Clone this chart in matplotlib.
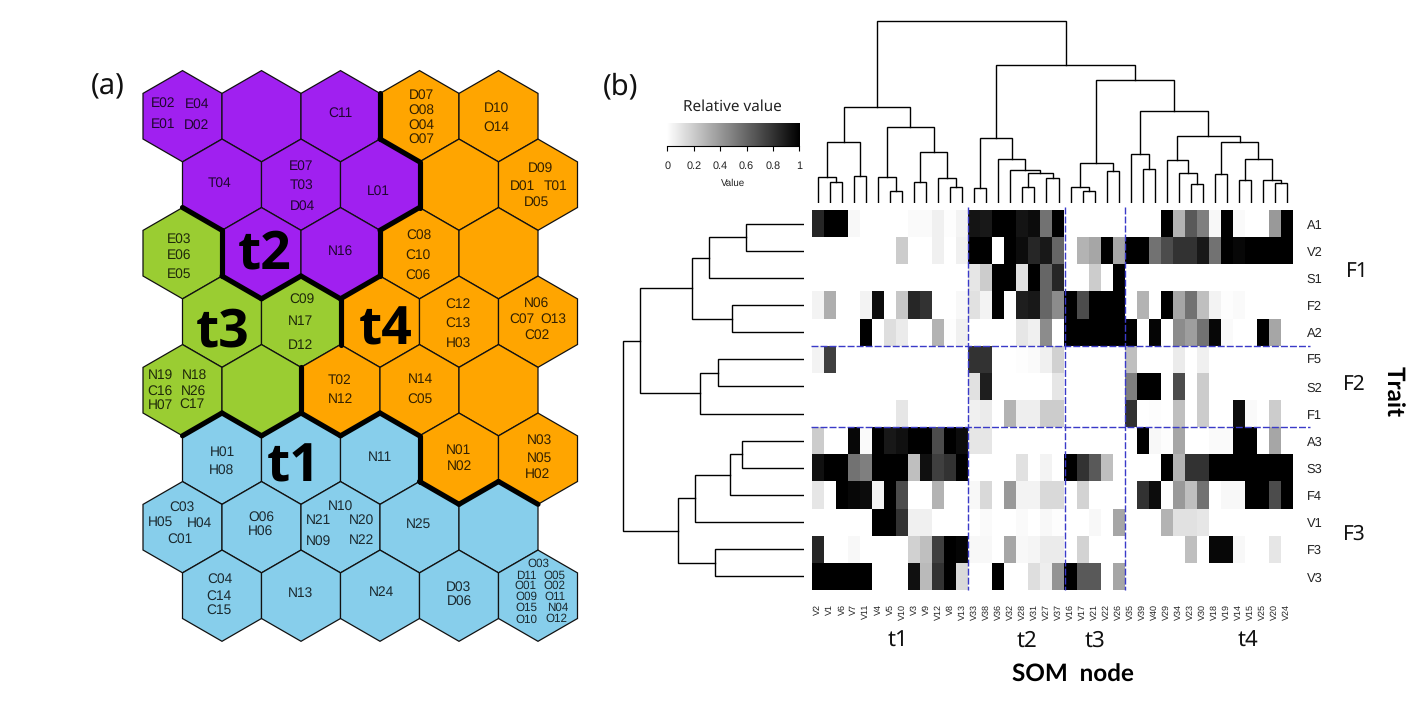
# SOM hexagon map (a) and clustered heatmap of trait vs SOM node (b)

import numpy as np
import matplotlib
matplotlib.use('Agg')
import matplotlib.pyplot as plt
from matplotlib.patches import Polygon

W, H = 1419, 702

plt.rcParams['font.family'] = ['Liberation Sans', 'DejaVu Sans']
plt.rcParams['text.hinting'] = 'none'

# ---- data ----
som_clusters = ['PPPOO', 'PPPOO', 'GPPOO', 'GGOOO', 'GGOOO', 'BBBOO', 'BBBBB', 'BBBBB']

trait_names = ['A1', 'V2', 'S1', 'F2', 'A2', 'F5', 'S2', 'F1', 'A3', 'S3', 'F4', 'V1', 'F3', 'V3']
node_names = ['V2', 'V1', 'V6', 'V7', 'V11', 'V4', 'V5', 'V10', 'V3', 'V9', 'V12', 'V8', 'V13', 'V33',
              'V38', 'V36', 'V32', 'V28', 'V31', 'V27', 'V37', 'V16', 'V17', 'V21', 'V22', 'V26', 'V35',
              'V39', 'V40', 'V29', 'V34', 'V23', 'V30', 'V18', 'V19', 'V14', 'V15', 'V25', 'V20', 'V24']

a1 = [.85, 1, 1, .03, 0, 0, 0, 0, .02, .02, .06, .01, .05, .92, .9, 1, 1, .92, .95, .55,
      1, 0, 0, 0, 0, 0, 0, 0, 0, 1, .3, .65, .5, .03, 1, .02, 0, 0, .4, 1]
v2 = [0, 0, 0, 0, 0, 0, 0, .2, 0, 0, .06, 0, .06, 1, 1, 0, 1, .95, .85, .9,
      .6, 0, .3, .35, 1, .35, 1, 1, .55, .7, .8, .8, .9, .55, 1, .97, 1, 1, 1, 1]
s1 = [0, 0, 0, 0, 0, 0, 0, 0, 0, 0, 0, 0, 0, .1, .2, 1, 1, .12, 1, .6,
      .85, 0, 0, .2, 0, 1, 0, 0, 0, 0, 0, 0, 0, 0, 0, 0, 0, 0, 0, 0]
f2 = [.05, .32, 0, 0, .05, .95, 0, .22, .85, .8, 0, 0, .03, .12, .05, 1, 0, .88, .9, .6,
      .45, 1, .7, 1, 1, 1, 0, .3, 0, 1, .35, .55, .25, .05, .01, .02, 0, 0, 0, 0]
a2 = [0, 0, 0, 0, 1, 0, .13, .08, 0, 0, .3, .01, .06, 0, 0, 0, 0, .1, .06, .45,
      0, 1, 1, 1, 1, 1, 1, 0, .98, 0, .45, .38, .55, .97, .02, 0, 0, 1, .35, 0]
f5 = [.05, .75, 0, 0, 0, 0, 0, 0, 0, 0, 0, 0, 0, .8, .8, 0, 0, .01, .02, .06,
      .18, 0, 0, 0, 0, 0, .25, 0, 0, 0, .08, 0, .06, 0, 0, 0, 0, 0, 0, 0]
s2 = [0, 0, 0, 0, 0, 0, 0, 0, 0, 0, 0, 0, 0, .12, .88, 0, 0, 0, 0, 0,
      .1, 0, 0, 0, 0, 0, .5, 1, 1, 0, .7, 0, .2, 0, 0, 0, 0, 0, 0, 0]
f1 = [0, 0, 0, 0, 0, 0, 0, .1, 0, 0, 0, 0, 0, .06, .08, 0, .3, .07, .07, .2,
      .2, 0, 0, 0, 0, 0, .8, 0, .01, 0, .25, 0, .2, 0, 0, .95, .02, 0, .2, 0]
a3 = [.2, 0, 0, .97, .02, 1, .9, .93, 1, 1, .7, 1, .95, .1, .1, 0, 0, 0, 0, 0,
      0, 0, 0, 0, 0, 0, 0, 1, .03, .01, .35, 0, 0, .02, .02, 1, 1, 0, .35, 0]
s3 = [.93, 1, 1, .55, .5, 1, 1, 1, .25, .93, .75, .8, 1, 0, 0, 0, 0, .12, 0, .05,
      0, 1, .8, .65, .25, 0, 0, 0, 0, 1, .3, .8, .8, 1, 1, 1, 1, 1, 1, 1]
f4 = [.1, 0, 1, .97, .95, .05, 1, .7, 0, 0, .3, 0, 0, .03, .15, 0, .4, .05, .05, .15,
      .15, 0, .17, 0, 0, 0, 0, .8, .95, .01, .4, .25, .55, 0, .03, .03, 1, 1, .7, 1]
v1 = [0, 0, 0, 0, 0, 1, 1, .8, .06, .06, 0, 0, 0, 0, .02, 0, 0, .02, 0, .03,
      .01, 0, 0, .03, 0, .35, 0, 0, 0, .3, .12, .12, .1, 0, 0, 0, 0, 0, 0, 0]
f3 = [.85, 0, 0, .03, 0, 0, 0, 0, .18, .25, .75, 1, .98, .03, .03, 0, .35, .03, .04, .08,
      .08, 0, .17, 0, 0, 0, 0, 0, 0, 0, 0, .25, 0, .97, .97, .03, 0, 0, .1, 0]
v3 = [1, 1, 1, 1, 1, 0, 0, 0, .93, .27, .8, 1, .15, 0, 0, 1, 0, 0, .13, .07,
      .42, 1, .65, .65, 0, .35, 0, 0, 0, 0, 0, 0, 0, 0, 0, 0, 0, 0, 0, 0]
values = np.array([a1, v2, s1, f2, a2, f5, s2, f1, a3, s3, f4, v1, f3, v3])

# (height, left, right), ints are leaves
col_left = (95.7,
            (60.7, (25.7, 0, (21.3, 1, 2)), (27, 3, 4)),
            (75.7, (25.7, 5, (11.7, 6, 7)),
             (50.7, (20.7, 8, 9), (24.7, 10, (15.7, 11, 12)))))
col_mid = (64.7, (14.7, 13, 14),
           (43.7, 15, (32.7, 16, (29.7, (15.7, 17, 18), (24.7, 19, 20)))))
col_right = (122.7,
             (39.7, (15.7, 21, (11.7, 22, 23)), (31.7, 24, 25)),
             (91.7, (48.7, 26, (33.7, 27, 28)),
              (66.7, (42.7, 29, (29.7, 30, (18.7, 31, 32))),
               (60.7, (28.7, 33, 34),
                (43.7, (22.7, 35, 36), (22.7, 37, (19.7, 38, 39)))))))
col_tree = (181.7, col_left, (137.7, col_mid, col_right))

row_tree = (180.7,
            (163.7,
             (111.7, (94.7, (57.7, 0, 1), 2), (71.7, 3, 4)),
             (103.7, (85.7, 5, 6), 7)),
            (125.7,
             (108.7, (73.7, (61.7, 8, 9), 10), 11),
             (88.7, 12, 13)))

colorbar_ticks = [0, 0.2, 0.4, 0.6, 0.8, 1]
colorbar_labels = ['0', '0.2', '0.4', '0.6', '0.8', '1']

col_breaks = [13, 21, 26]
row_breaks = [5, 8]

cluster_colors = {'P': '#A020F0', 'O': '#FFA500', 'G': '#9ACD32', 'B': '#87CEEB'}


def px_axes(left, top, right, bottom):
    return fig.add_axes([left / W, 1 - bottom / H, (right - left) / W, (bottom - top) / H])


def draw_tree(ax, node, horizontal=False):
    # returns position and height of the node
    if isinstance(node, int):
        return node, 0
    h, left, right = node
    p1, h1 = draw_tree(ax, left, horizontal)
    p2, h2 = draw_tree(ax, right, horizontal)
    pos = [p1, p1, p2, p2]
    hts = [h1, h, h, h2]
    if horizontal:
        ax.plot(hts, pos, color='black', lw=1.0, solid_joinstyle='miter')
    else:
        ax.plot(pos, hts, color='black', lw=1.0, solid_joinstyle='miter')
    return (p1 + p2) / 2, h


fig = plt.figure(figsize=(W / 100, H / 100), dpi=100)

# page wide axes in pixels, for the hexagons and the free text
page = fig.add_axes([0, 0, 1, 1])
page.set_xlim(0, W)
page.set_ylim(H, 0)
page.axis('off')

# ---- (a) hexagons ----
hex_w = 79.0
hex_r = 45.6
edges = {}
for r, line in enumerate(som_clusters):
    for c, cl in enumerate(line):
        cx = (182.5 if r % 2 == 0 else 222) + c * hex_w
        cy = 116.2 + r * 68.5
        verts = [(cx, cy - hex_r), (cx + hex_w / 2, cy - hex_r / 2), (cx + hex_w / 2, cy + hex_r / 2),
                 (cx, cy + hex_r), (cx - hex_w / 2, cy + hex_r / 2), (cx - hex_w / 2, cy - hex_r / 2)]
        page.add_patch(Polygon(verts, closed=True, facecolor=cluster_colors[cl],
                               edgecolor='#111111', lw=0.9, zorder=1))
        for k in range(6):
            p, q = verts[k], verts[(k + 1) % 6]
            key = tuple(sorted([(round(p[0]), round(p[1])), (round(q[0]), round(q[1]))]))
            edges.setdefault(key, []).append((cl, p, q))

# thick border where two clusters meet
for key, found in edges.items():
    if len(found) == 2 and found[0][0] != found[1][0]:
        _, p, q = found[0]
        page.plot([p[0], q[0]], [p[1], q[1]], color='black', lw=3.7,
                  solid_capstyle='round', zorder=2)


def hex_label(x, y, s, size=9.9):
    page.text(x, y + 0.8, s, fontsize=size, ha='center', va='center', color='black', alpha=0.8, zorder=3)


hex_label(163.3, 102.7, 'E02')
hex_label(196.7, 103.7, 'E04')
hex_label(163.3, 123.3, 'E01')
hex_label(196.7, 124.3, 'D02')
hex_label(340.7, 112.7, 'C11')
hex_label(220, 182.7, 'T04')
hex_label(300.7, 165, 'E07')
hex_label(301.3, 184.3, 'T03')
hex_label(302.3, 205.7, 'D04')
hex_label(378.3, 190, 'L01')
hex_label(340, 250, 'N16')
hex_label(179, 238, 'E03')
hex_label(179, 254.7, 'E06')
hex_label(179, 273.3, 'E05')
hex_label(302.3, 298.7, 'C09')
hex_label(300, 320.7, 'N17')
hex_label(300.7, 345, 'D12')
hex_label(421.7, 94.3, 'D07')
hex_label(421.7, 109.7, 'O08')
hex_label(421.7, 124.3, 'O04')
hex_label(421.7, 138.7, 'O07')
hex_label(496.7, 107.7, 'D10')
hex_label(496.7, 126.7, 'O14')
hex_label(540.7, 167.7, 'D09')
hex_label(522.3, 185.3, 'D01')
hex_label(555.7, 185.3, 'T01')
hex_label(536.7, 201.7, 'D05')
hex_label(419.3, 234.7, 'C08')
hex_label(418.3, 254.7, 'C10')
hex_label(418.3, 274.3, 'C06')
hex_label(458.3, 303.7, 'C12')
hex_label(458.3, 322.3, 'C13')
hex_label(458.3, 342.7, 'H03')
hex_label(536, 302.7, 'N06')
hex_label(521.7, 318.3, 'C07')
hex_label(553.3, 318.3, 'O13')
hex_label(536.7, 334.7, 'C02')
hex_label(160.7, 374.3, 'N19')
hex_label(194, 374.3, 'N18')
hex_label(160, 390, 'C16')
hex_label(193.3, 390.7, 'N26')
hex_label(160.7, 404.3, 'H07')
hex_label(192.3, 403.3, 'C17')
hex_label(340, 379.3, 'T02')
hex_label(340.7, 399, 'N12')
hex_label(420, 379, 'N14')
hex_label(420, 398.7, 'C05')
hex_label(222.3, 451.7, 'H01')
hex_label(221, 469.7, 'H08')
hex_label(380, 456.7, 'N11')
hex_label(458.3, 449.3, 'N01')
hex_label(459, 465.7, 'N02')
hex_label(539, 439.3, 'N03')
hex_label(539, 457.7, 'N05')
hex_label(537.3, 473.7, 'H02')
hex_label(181.7, 506.7, 'C03')
hex_label(160.7, 521, 'H05')
hex_label(199, 522, 'H04')
hex_label(180, 538.7, 'C01')
hex_label(261, 516.3, 'O06')
hex_label(260, 530.3, 'H06')
hex_label(340, 505.3, 'N10')
hex_label(318.3, 520, 'N21')
hex_label(361, 519, 'N20')
hex_label(318.7, 540, 'N09')
hex_label(361, 540, 'N22')
hex_label(418.3, 523.3, 'N25')
hex_label(220, 578.7, 'C04')
hex_label(219.3, 595, 'C14')
hex_label(219.3, 609.7, 'C15')
hex_label(300.7, 592.3, 'N13')
hex_label(381.7, 591.7, 'N24')
hex_label(458.3, 586.7, 'D03')
hex_label(459, 600.7, 'D06')
hex_label(538.3, 562.7, 'O03', 8.4)
hex_label(526, 574.7, 'D11', 8.4)
hex_label(554, 574.7, 'O05', 8.4)
hex_label(525.3, 585, 'O01', 8.4)
hex_label(554, 585, 'O02', 8.4)
hex_label(526, 596, 'O09', 8.4)
hex_label(555, 596, 'O11', 8.4)
hex_label(526, 607, 'O15', 8.4)
hex_label(557.3, 607, 'N04', 8.4)
hex_label(526, 618.7, 'O10', 8.4)
hex_label(556, 618, 'O12', 8.4)

big = dict(family=['Open Sans', 'DejaVu Sans'], fontsize=38.5, fontweight='bold', color='black',
           ha='center', va='center', zorder=4)
page.text(265, 255, 't2', **big)
page.text(223, 333, 't3', **big)
page.text(386, 331, 't4', **big)
page.text(294, 468, 't1', **big)

sans = ['Noto Sans', 'DejaVu Sans']
page.text(107.5, 87, '(a)', family=sans, fontsize=21, ha='center', va='center', color='#111111')
page.text(620.5, 87, '(b)', family=sans, fontsize=21, ha='center', va='center', color='#111111')

# ---- (b) heatmap ----
heat = px_axes(812, 210, 1293, 590)
heat.imshow(values, cmap='gray_r', vmin=0, vmax=1, aspect='auto', interpolation='nearest')
heat.set_xticks([])
heat.set_yticks([])
for sp in heat.spines.values():
    sp.set_visible(False)

for b in col_breaks:
    heat.plot([b - 0.5, b - 0.5], [-0.6, 13.5], color='#3a3ac8', lw=1.0, ls=(0, (5, 1.5)), clip_on=False)
for b in row_breaks:
    heat.plot([-0.55, 40.9], [b - 0.5, b - 0.5], color='#3a3ac8', lw=1.0, ls=(0, (5, 1.5)), clip_on=False)
heat.set_xlim(-0.5, 39.5)
heat.set_ylim(13.5, -0.5)

for j, name in enumerate(node_names):
    heat.text(j, 13.5 + 13.5 / 27.14, name, rotation=90, fontsize=6.5, ha='center', va='top', color='#222222')
for i, name in enumerate(trait_names):
    heat.text(39.5 + 13.5 / 12.02, i + 0.06, name, fontsize=9.3, ha='left', va='center', color='#222222')

# ---- dendrograms ----
top = px_axes(812, 13, 1293, 203)
top.set_xlim(-0.5, 39.5)
top.set_ylim(0, 190)
top.axis('off')
draw_tree(top, col_tree)

side = px_axes(614, 210, 804, 590)
side.set_xlim(190, 0)
side.set_ylim(13.5, -0.5)
side.axis('off')
draw_tree(side, row_tree, horizontal=True)

# ---- colour key ----
key = px_axes(667.3, 123, 799.3, 145.7)
key.imshow(np.linspace(0, 1, 256).reshape(1, -1), cmap='gray_r', vmin=0, vmax=1, aspect='auto',
           extent=[0, 1, 0, 1])
key.set_yticks([])
key.set_xticks(colorbar_ticks)
key.set_xticklabels(colorbar_labels, fontsize=7.8, color='#222222')
key.tick_params(axis='x', length=3.8, width=0.8, pad=7.5)
key.set_xlabel('Value', fontsize=7, color='#222222', labelpad=5)
for s in ['top', 'left', 'right']:
    key.spines[s].set_visible(False)
key.spines['bottom'].set_linewidth(0.8)

page.text(732, 107, 'Relative value', family=sans, fontsize=11, ha='center', va='center', color='#222222')

# ---- free labels around the heatmap ----
page.text(1357, 272, 'F1', family=sans, fontsize=15, ha='center', va='center', color='#111111')
page.text(1354, 385, 'F2', family=sans, fontsize=15, ha='center', va='center', color='#111111')
page.text(1354, 534, 'F3', family=sans, fontsize=15, ha='center', va='center', color='#111111')
page.text(1394, 392, 'Trait', family=['Lato', 'DejaVu Sans'], fontsize=17.5, fontweight='bold', rotation=-90,
          ha='center', va='center', color='black')
page.text(898, 641, 't1', family=sans, fontsize=16, ha='center', va='center', color='#111111')
page.text(1027, 641, 't2', family=sans, fontsize=16, ha='center', va='center', color='#111111')
page.text(1095, 641, 't3', family=sans, fontsize=16, ha='center', va='center', color='#111111')
page.text(1248, 641, 't4', family=sans, fontsize=16, ha='center', va='center', color='#111111')
page.text(1073, 675, 'SOM  node', family=['Lato', 'DejaVu Sans'], fontsize=17.5, fontweight='bold',
          ha='center', va='center', color='black')

fig.savefig('out.png', dpi=100)
